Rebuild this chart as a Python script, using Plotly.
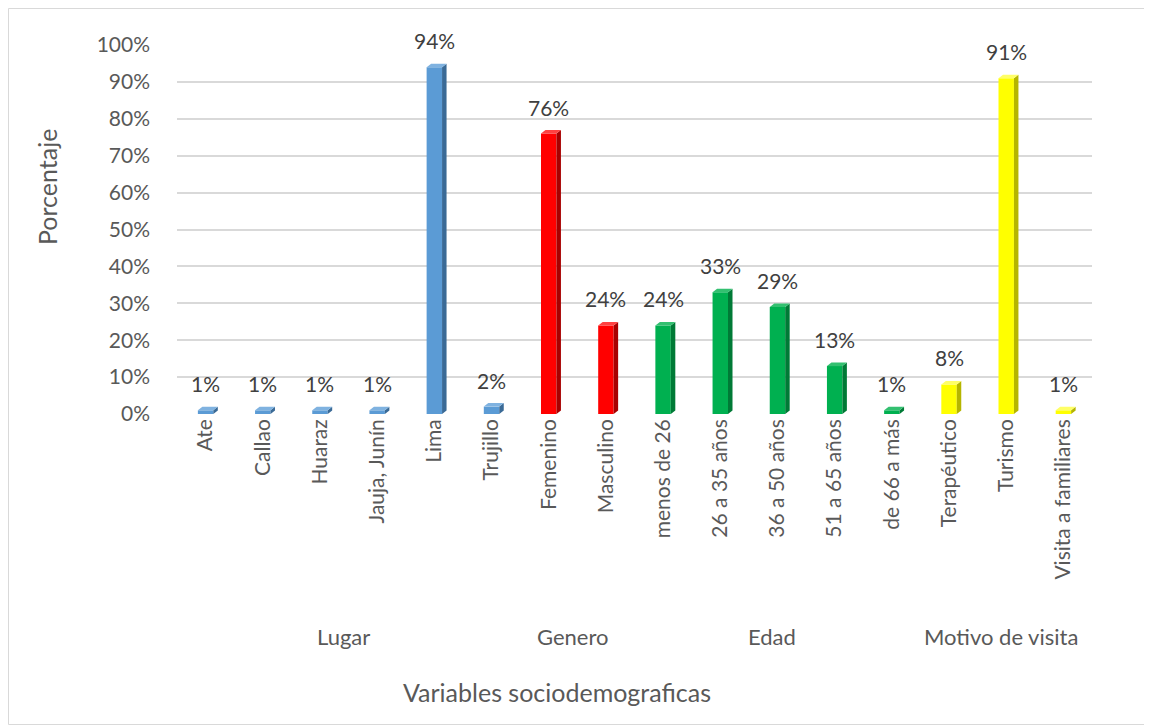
import plotly.graph_objects as go

categories = ["Ate", "Callao", "Huaraz", "Jauja, Junín", "Lima", "Trujillo",
              "Femenino", "Masculino",
              "menos de 26", "26 a 35 años", "36 a 50 años", "51 a 65 años", "de 66 a más",
              "Terapéutico", "Turismo", "Visita a familiares"]
values = [1, 1, 1, 1, 94, 2,
          76, 24,
          24, 33, 29, 13, 1,
          8, 91, 1]
groups = ["Lugar"] * 6 + ["Genero"] * 2 + ["Edad"] * 5 + ["Motivo de visita"] * 3
group_names = ["Lugar", "Genero", "Edad", "Motivo de visita"]
group_colors = {
    "Lugar": ("#5B9BD5", "#3A6A96", "#7FB2E0"),
    "Genero": ("#FF0000", "#A80000", "#FF4040"),
    "Edad": ("#00B050", "#007A36", "#33C070"),
    "Motivo de visita": ("#FFFF00", "#B5B500", "#FFFF66"),
}
y_ticks = list(range(0, 101, 10))

FONT = "Lato"
GRAY = "#595959"
FS = 21

OFF = 8  # page body margin
W, H = 1152 - OFF, 726 - OFF
L, T = 177 - OFF, 45 - OFF
pw, ph = 915, 369
R, B = W - L - pw, H - T - ph
n = len(categories)
xpu = pw / n
ypu = ph / 100.0

bar_w = 0.27
dx = 4.5 / xpu
dy = 3.5 / ypu

fig = go.Figure()
xs = list(range(n))

fig.add_trace(go.Bar(
    x=xs, y=values, width=bar_w,
    marker=dict(color=[group_colors[g][0] for g in groups], line=dict(width=0)),
    hoverinfo="skip", showlegend=False,
))

for i, (v, g) in enumerate(zip(values, groups)):
    xl = i - bar_w / 2
    xr = i + bar_w / 2
    fig.add_trace(go.Scatter(
        x=[xr, xr + dx, xr + dx, xr, xr],
        y=[0, dy, v + dy, v, 0],
        fill="toself", mode="lines", line=dict(width=0),
        fillcolor=group_colors[g][1], hoverinfo="skip", showlegend=False,
    ))
    fig.add_trace(go.Scatter(
        x=[xl, xl + dx, xr + dx, xr, xl],
        y=[v, v + dy, v + dy, v, v],
        fill="toself", mode="lines", line=dict(width=0),
        fillcolor=group_colors[g][2], hoverinfo="skip", showlegend=False,
    ))

annotations = []
for i, v in enumerate(values):
    annotations.append(dict(
        x=i, y=v, xref="x", yref="y", text=f"{v}%", showarrow=False,
        xanchor="center", yanchor="bottom", yshift=12,
        font=dict(family=FONT, size=FS, color="#404040"),
    ))

for gname in group_names:
    idx = [i for i, g in enumerate(groups) if g == gname]
    cx = (idx[0] + idx[-1]) / 2
    annotations.append(dict(
        x=cx, y=(414 - 636) / ph, xref="x", yref="paper", text=gname,
        showarrow=False, xshift=-5, xanchor="center", yanchor="middle",
        font=dict(family=FONT, size=22, color=GRAY),
    ))

annotations.append(dict(
    x=(557 - 177) / pw, y=(414 - 692) / ph, xref="paper", yref="paper",
    text="Variables sociodemograficas", showarrow=False,
    xanchor="center", yanchor="middle",
    font=dict(family=FONT, size=25, color=GRAY),
))
annotations.append(dict(
    x=(47 - 177) / pw, y=(414 - 187) / ph, xref="paper", yref="paper",
    text="Porcentaje", showarrow=False, textangle=-90,
    xanchor="center", yanchor="middle",
    font=dict(family=FONT, size=25, color=GRAY),
))

fig.update_layout(
    width=W, height=H,
    margin=dict(l=L, r=R, t=T, b=B),
    paper_bgcolor="white", plot_bgcolor="white",
    barmode="overlay",
    annotations=annotations,
    shapes=[dict(
        type="rect", xref="paper", yref="paper",
        x0=(0.5 - L) / pw, x1=(W - 1.5 - L) / pw,
        y0=-(B - 1.5) / ph, y1=1 + (T - 0.5) / ph,
        line=dict(color="#D9D9D9", width=1), layer="below",
    )],
)
fig.update_xaxes(
    range=[-0.5, n - 0.5], tickmode="array", tickvals=xs, ticktext=categories,
    tickangle=-90, showgrid=False, zeroline=False, showline=False, ticks="",
    tickfont=dict(family=FONT, size=FS, color=GRAY), fixedrange=True,
)
fig.update_yaxes(
    range=[0, 100], tickmode="array", tickvals=y_ticks,
    ticktext=[f"{t}%" for t in y_ticks],
    showgrid=True, gridcolor="#D9D9D9", gridwidth=2, zeroline=False, showline=False,
    ticks="", ticklabelstandoff=26,
    tickfont=dict(family=FONT, size=FS, color=GRAY), fixedrange=True,
)

fig.write_html("out.html")
